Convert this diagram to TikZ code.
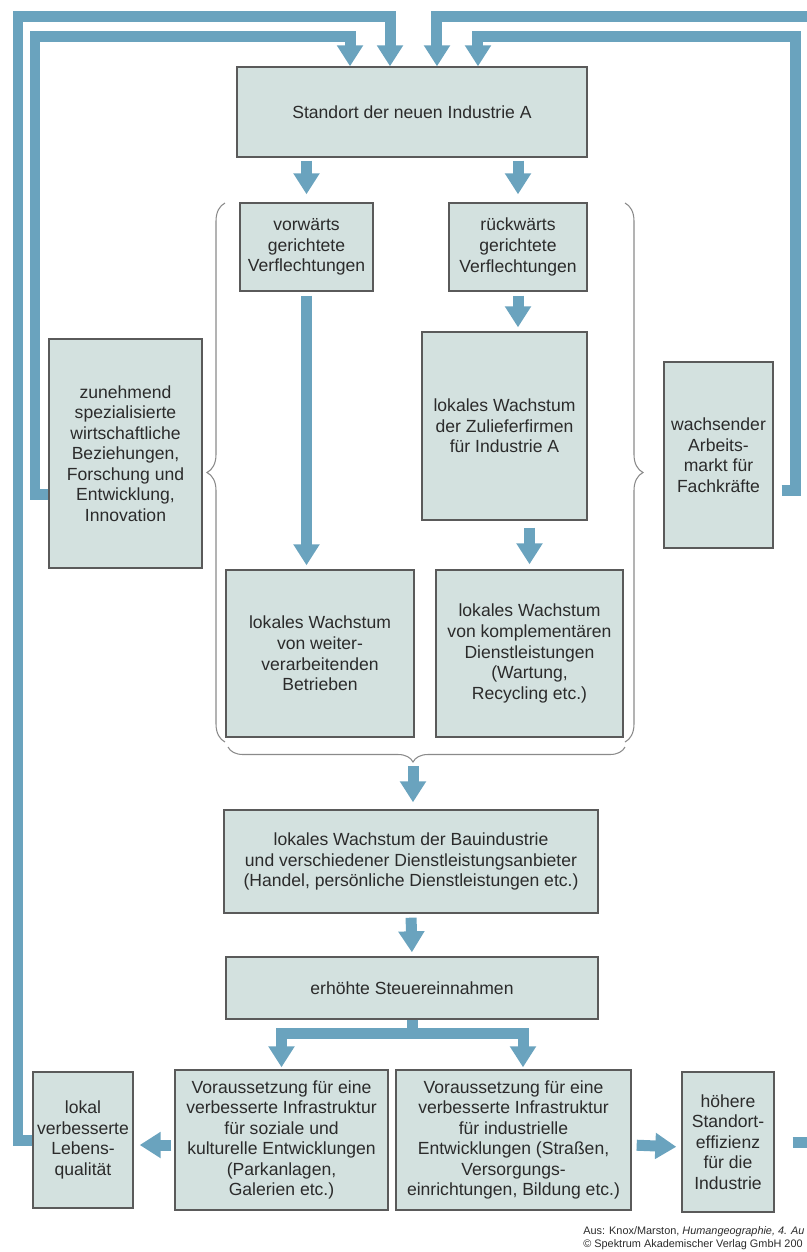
\documentclass[tikz,border=0pt]{standalone}
\usepackage{fontspec}
\setmainfont{Liberation Sans}
\usetikzlibrary{arrows.meta,decorations.pathreplacing}
\definecolor{boxfill}{HTML}{D3E1DF}
\definecolor{boxline}{HTML}{5A5A5A}
\definecolor{flowblue}{HTML}{6AA3BE}
\definecolor{inkgray}{HTML}{2B2B2B}
\definecolor{bracegray}{HTML}{8A8A8A}
\tikzset{
  box/.style={draw=boxline, line width=0.8pt, fill=boxfill, text=inkgray, align=center,
    inner sep=1pt, font=\fontsize{10}{11.7}\selectfont},
  flow/.style={draw=flowblue, line width=0.22cm, line join=miter,
    -{Triangle[width=0.5cm,length=0.42cm]}},
  curly/.style={draw=bracegray, line width=0.6pt, decorate,
    decoration={brace, amplitude=#1}},
}
\begin{document}
\begin{tikzpicture}[x=0.02cm, y=-0.02cm]
        \useasboundingbox (0,0) rectangle (806,1252);
        % boxes
        \node[box, minimum width=7cm, minimum height=1.8cm] (std) at (412,112) {Standort der neuen Industrie A};
        \node[box, minimum width=2.66cm, minimum height=1.76cm] (vor) at (306.5,247) {vorwärts\\gerichtete\\Verflechtungen};
        \node[box, minimum width=2.76cm, minimum height=1.76cm] (rueck) at (518,247) {rückwärts\\gerichtete\\Verflechtungen};
        \node[box, minimum width=3.06cm, minimum height=4.58cm] (bez) at (125.5,453.5) {zunehmend\\spezialisierte\\wirtschaftliche\\Beziehungen,\\Forschung und\\Entwicklung,\\Innovation};
        \node[box, minimum width=2.18cm, minimum height=3.72cm] (arb) at (718.5,455) {wachsender\\Arbeits-\\markt für\\Fachkräfte};
        \node[box, minimum width=3.3cm, minimum height=3.76cm] (zul) at (504.5,426) {lokales Wachstum\\der Zulieferfirmen\\für Industrie A};
        \node[box, minimum width=3.76cm, minimum height=3.34cm] (wei) at (320,653.5) {lokales Wachstum\\von weiter-\\verarbeitenden\\Betrieben};
        \node[box, minimum width=3.74cm, minimum height=3.34cm] (kom) at (529.5,653.5) {lokales Wachstum\\von komplementären\\Dienstleistungen\\(Wartung,\\Recycling etc.)};
        \node[box, minimum width=7.48cm, minimum height=2.06cm] (bau) at (411,861.5) {lokales Wachstum der Bauindustrie\\und verschiedener Dienstleistungsanbieter\\(Handel, persönliche Dienstleistungen etc.)};
        \node[box, minimum width=7.44cm, minimum height=1.24cm] (steu) at (412,988) {erhöhte Steuereinnahmen};
        \node[box, minimum width=2cm, minimum height=2.72cm] (leb) at (83,1140) {lokal\\verbesserte\\Lebens-\\qualität};
        \node[box, minimum width=4.26cm, minimum height=2.8cm] (soz) at (281.5,1140) {Voraussetzung für eine\\verbesserte Infrastruktur\\für soziale und\\kulturelle Entwicklungen\\(Parkanlagen,\\Galerien etc.)};
        \node[box, minimum width=4.7cm, minimum height=2.8cm] (ind) at (513.5,1140) {Voraussetzung für eine\\verbesserte Infrastruktur\\für industrielle\\Entwicklungen (Straßen,\\Versorgungs-\\einrichtungen, Bildung etc.)};
        \node[box, minimum width=1.84cm, minimum height=2.8cm] (eff) at (728,1142) {höhere\\Standort-\\effizienz\\für die\\Industrie};

        % braces
        \draw[curly=0.36cm] (225,742) -- (225,203);
        \draw[curly=0.36cm] (625,203) -- (625,742);
        \draw[curly=0.3cm, decoration={aspect=0.534}] (625,747) -- (228,747);
        \coordinate (bracetip) at (413,766);

        % feedback loops
        \draw[flow] (leb.west) -| (18,16) -| ([xshift=-0.44cm]std.north);
        \draw[flow] ([yshift=-0.81cm]bez.west) -| (35,36) -| ([xshift=-1.24cm]std.north);
        \draw[flow, shorten <=0.36cm] (eff.east) -| (812,16) -| ([xshift=0.5cm]std.north);
        \draw[flow, shorten <=0.16cm] ([yshift=-0.7cm]arb.east) -| (795,36) -| ([xshift=1.32cm]std.north);

        % downward flow
        \draw[flow, shorten <=0.06cm, shorten >=0.16cm] (std.south -| vor.north) -- (vor.north);
        \draw[flow, shorten <=0.06cm, shorten >=0.16cm] (std.south -| rueck.north) -- (rueck.north);
        \draw[flow, shorten <=0.08cm, shorten >=0.08cm] (vor.south) -- (vor.south |- wei.north);
        \draw[flow, shorten <=0.08cm, shorten >=0.08cm] (rueck.south) -- (rueck.south |- zul.north);
        \draw[flow, shorten <=0.14cm, shorten >=0.1cm] (kom.north |- zul.south) -- (kom.north);
        \draw[flow, shorten >=0.14cm] (bracetip) -- (bracetip |- bau.north);
        \draw[flow, shorten <=0.08cm, shorten >=0.08cm] (bau.south) -- (steu.north);
        \coordinate (fork) at ([yshift=-0.28cm]steu.south);
        \draw[flow, shorten >=0.04cm] (steu.south) -- (fork) -| (soz.north);
        \draw[flow, shorten >=0.04cm] (fork) -| ([xshift=0.19cm]ind.north);
        \draw[flow, shorten <=0.06cm, shorten >=0.12cm] ([yshift=-0.1cm]soz.west) -- ([yshift=-0.1cm]leb.east);
        \draw[flow, shorten <=0.1cm, shorten >=0.1cm] ([yshift=-0.1cm]ind.east) -- ([yshift=-0.1cm]eff.west);

        \node[anchor=north west, align=left, inner sep=0pt, text=inkgray,
          font=\fontsize{6.2}{7.4}\selectfont] (credit) at (583,1226)
          {Aus: Knox/Marston, \textit{Humangeographie, 4. Au}\\© Spektrum Akademischer Verlag GmbH 200};
\end{tikzpicture}
\end{document}
